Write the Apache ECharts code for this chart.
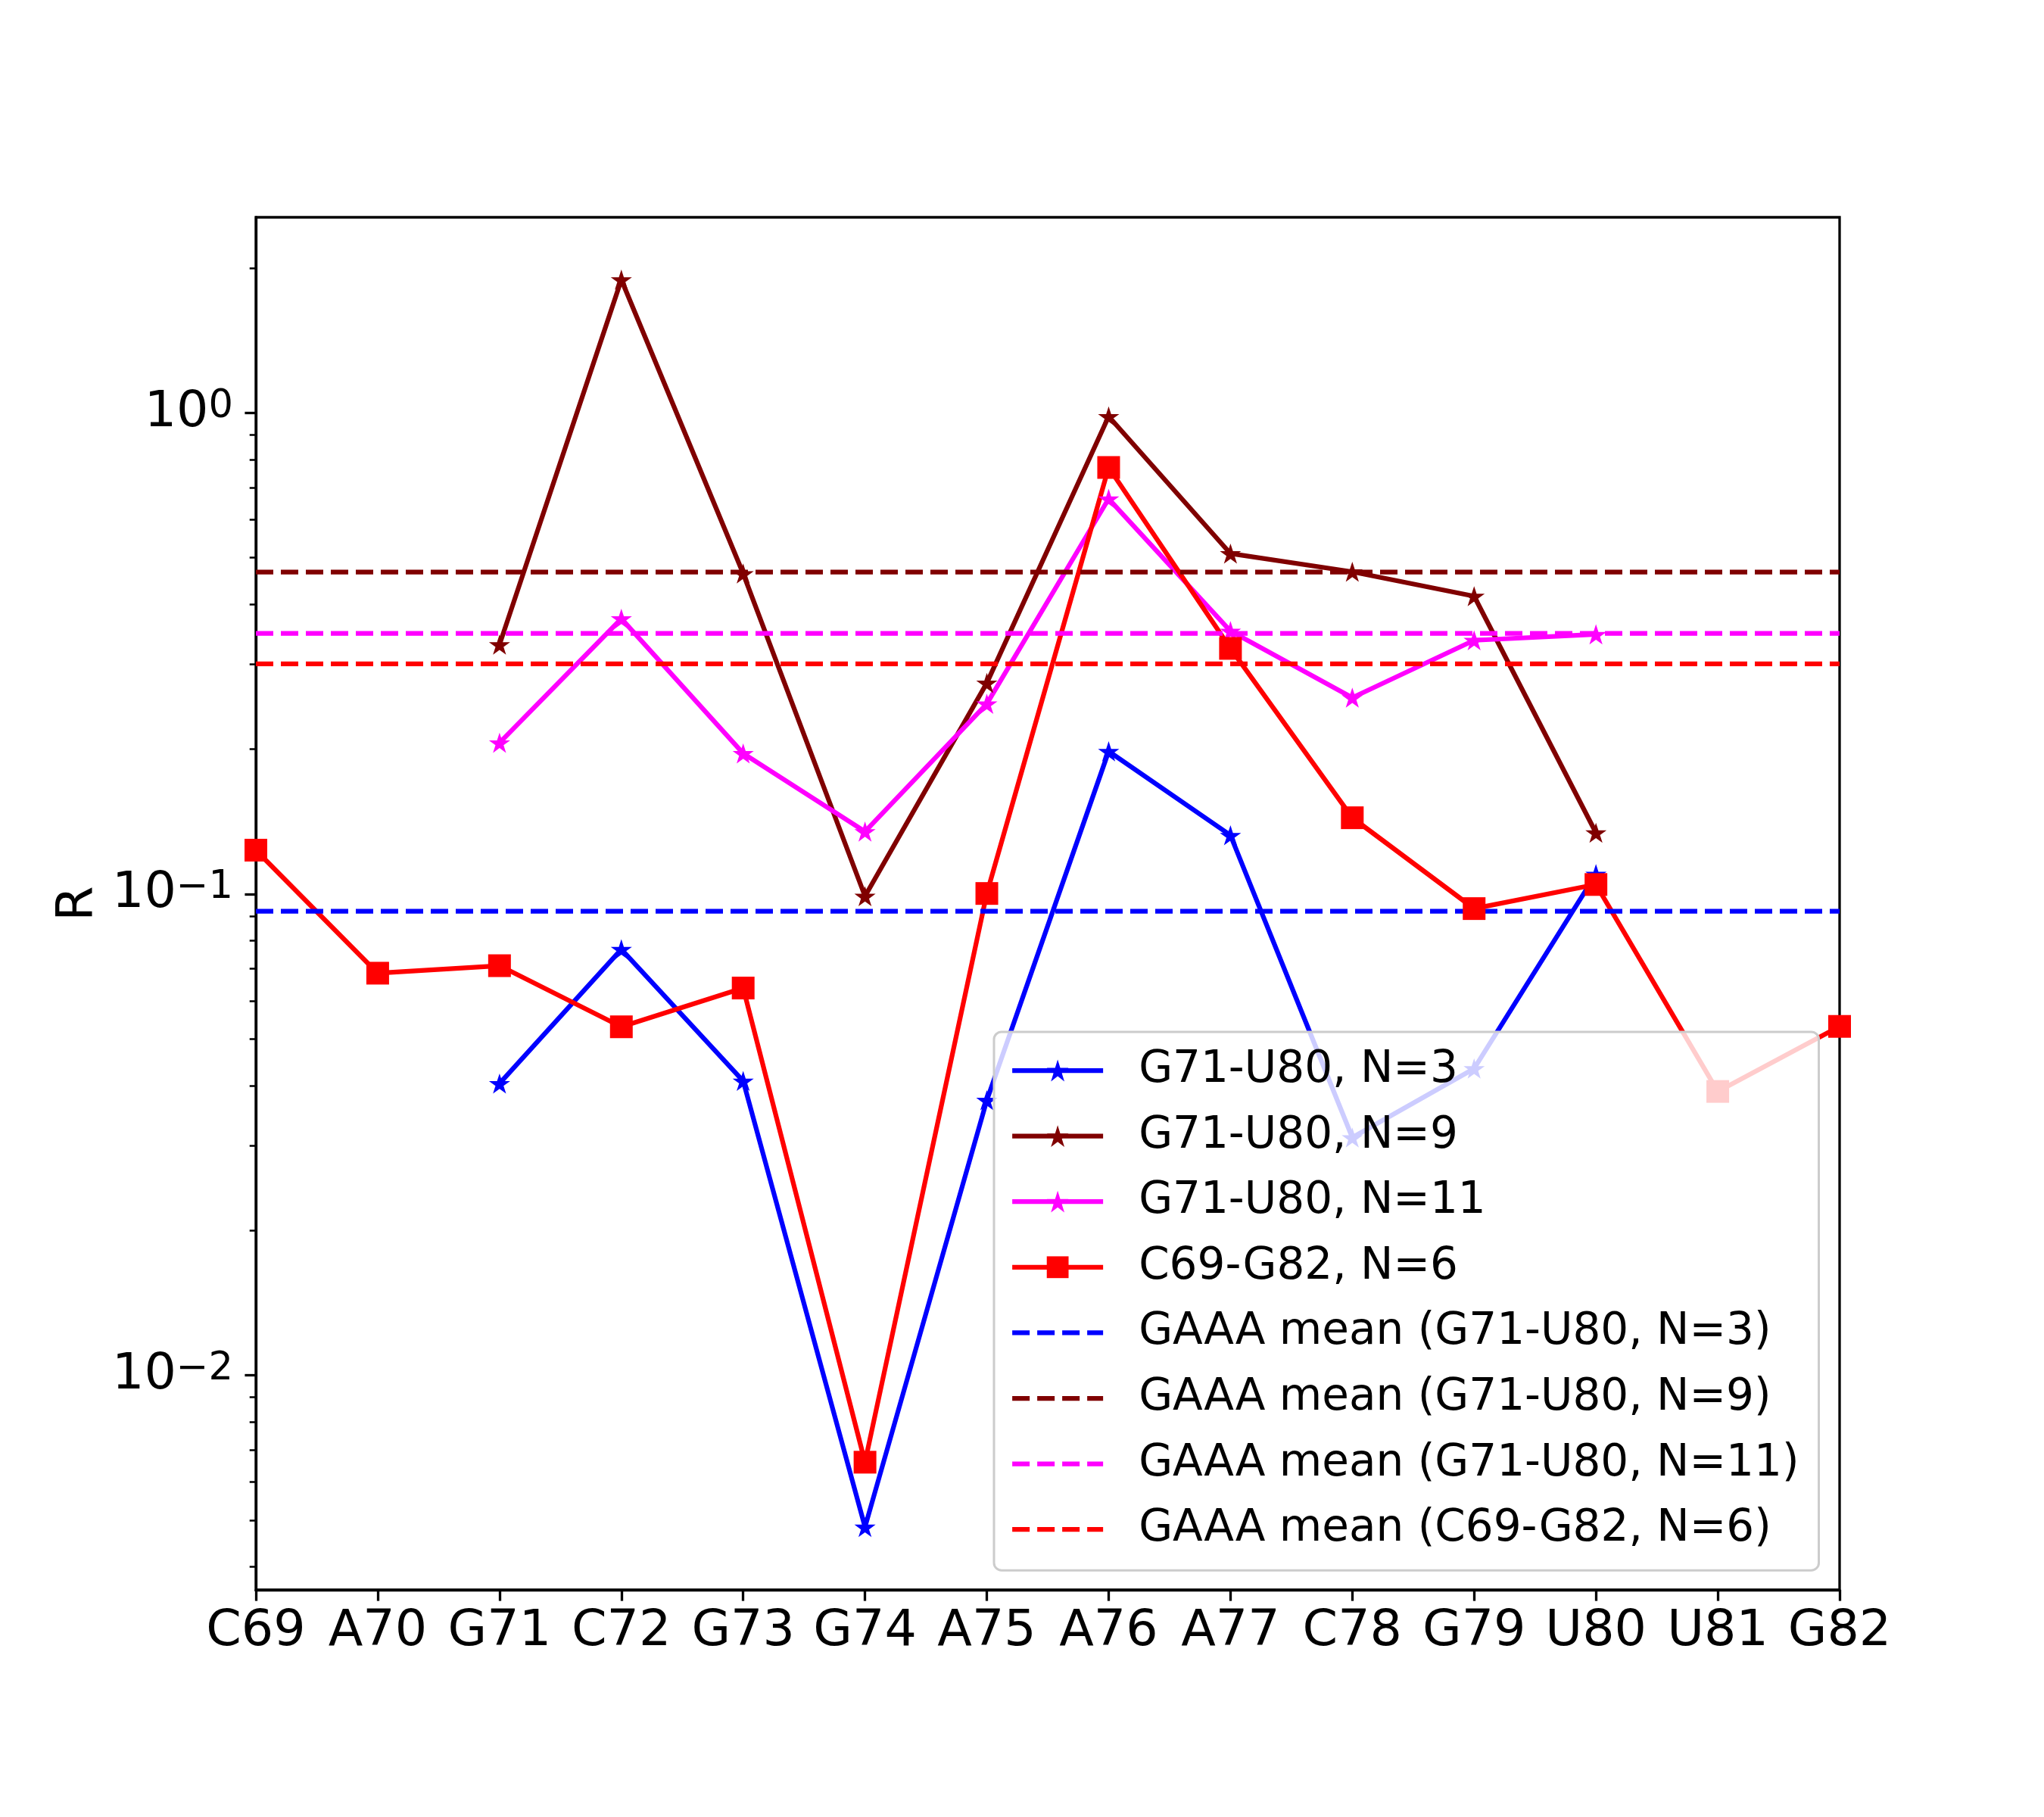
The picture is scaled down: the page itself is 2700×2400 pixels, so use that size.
<!DOCTYPE html>
<html>
<head>
<meta charset="utf-8">
<title>R per nucleotide</title>
<script src="https://cdn.jsdelivr.net/npm/echarts@6/dist/echarts.min.js"></script>
<style>
  html, body { margin: 0; padding: 0; background: #fff; }
  #chart { width: 2700px; height: 2400px; }
</style>
</head>
<body>
<div id="chart"></div>
<script>
// data
var categories = ['C69', 'A70', 'G71', 'C72', 'G73', 'G74', 'A75', 'A76', 'A77', 'C78', 'G79', 'U80', 'U81', 'G82'];
var g71N3 = [null, null, 0.0404, 0.0768, 0.0409, 0.00484, 0.0373, 0.198, 0.1325, 0.0312, 0.0434, 0.110, null, null];
var g71N9 = [null, null, 0.330, 1.891, 0.4636, 0.0990, 0.2746, 0.983, 0.510, 0.4675, 0.416, 0.1341, null, null];
var g71N11 = [null, null, 0.2063, 0.3735, 0.196, 0.1349, 0.2485, 0.663, 0.352, 0.256, 0.3368, 0.3465, null, null];
var c69N6 = [0.1234, 0.0685, 0.0710, 0.0530, 0.0638, 0.00660, 0.1003, 0.770, 0.324, 0.1441, 0.0933, 0.1047, 0.0389, 0.0531];
var meanN3 = 0.0921;
var meanN9 = 0.4667;
var meanN11 = 0.348;
var meanC69 = 0.301;
var yMajorTicks = [0.01, 0.1, 1];
var yMinorTicks = [0.004, 0.005, 0.006, 0.007, 0.008, 0.009,
  0.02, 0.03, 0.04, 0.05, 0.06, 0.07, 0.08, 0.09,
  0.2, 0.3, 0.4, 0.5, 0.6, 0.7, 0.8, 0.9, 2];

var FONT = 'DejaVu Sans';
var LW = 6.25;
var DASH = [23, 10];
// matplotlib '*' marker
var STAR = 'path://M100,0 L122.45,69.1 L195.1,69.1 L136.33,111.8 L158.8,180.9 L100,138.2 L41.2,180.9 L63.67,111.8 L4.9,69.1 L77.55,69.1 Z';

function lineSeries (name, data, color, symbol, size) {
  return {
    name: name,
    type: 'line',
    data: data,
    symbol: symbol,
    symbolSize: size,
    symbolKeepAspect: true,
    showAllSymbol: true,
    connectNulls: false,
    lineStyle: { color: color, width: LW },
    itemStyle: { color: color },
    emphasis: { disabled: true }
  };
}

function meanSeries (name, value, color) {
  return {
    name: name,
    type: 'line',
    data: [[categories[0], value], [categories[categories.length - 1], value]],
    symbol: 'none',
    lineStyle: { color: color, width: LW, type: DASH },
    itemStyle: { color: color },
    emphasis: { disabled: true }
  };
}

function expLabel (value) {
  var e = Math.round(Math.log(value) / Math.LN10);
  var s = e < 0 ? '\u2212' + (-e) : '' + e;
  return '{b|10}{s|' + s + '}';
}

var chart = echarts.init(document.getElementById('chart'), null, { renderer: 'canvas' });

var option = {
  animation: false,
  backgroundColor: '#fff',
  grid: {
    left: 338, right: 270, top: 287, bottom: 300,
    show: true, borderColor: '#000', borderWidth: 3.3, backgroundColor: 'transparent'
  },
  legend: {
    orient: 'vertical',
    left: 1313,
    top: 1363,
    padding: [18, 26, 21, 21],
    itemWidth: 120,
    itemHeight: 36,
    itemGap: 20.6,
    backgroundColor: 'rgba(255,255,255,0.8)',
    borderColor: '#cccccc',
    borderWidth: 3,
    borderRadius: 10,
    lineStyle: { width: LW },
    textStyle: { fontFamily: FONT, fontSize: 58, lineHeight: 66, color: '#000', padding: [0, 0, 0, 42] },
    data: [
      { name: 'G71-U80, N=3' },
      { name: 'G71-U80, N=9' },
      { name: 'G71-U80, N=11' },
      { name: 'C69-G82, N=6' },
      { name: 'GAAA mean (G71-U80, N=3)', itemStyle: { opacity: 0 } },
      { name: 'GAAA mean (G71-U80, N=9)', itemStyle: { opacity: 0 } },
      { name: 'GAAA mean (G71-U80, N=11)', itemStyle: { opacity: 0 } },
      { name: 'GAAA mean (C69-G82, N=6)', itemStyle: { opacity: 0 } }
    ]
  },
  xAxis: {
    type: 'category',
    data: categories,
    boundaryGap: false,
    axisLine: { lineStyle: { color: '#000', width: 3.3 } },
    axisTick: { alignWithLabel: true, length: 14.6, lineStyle: { color: '#000', width: 3.3 } },
    axisLabel: { fontFamily: FONT, fontSize: 66.7, color: '#000', margin: 22, interval: 0 },
    splitLine: { show: false }
  },
  yAxis: [
    {
      type: 'log',
      logBase: 10,
      min: 0.003583,
      max: 2.549,
      name: 'R',
      nameLocation: 'middle',
      nameGap: 190,
      nameTextStyle: { fontFamily: FONT, fontSize: 66.7, color: '#000' },
      axisLine: { show: true, lineStyle: { color: '#000', width: 3.3 } },
      axisTick: { show: true, length: 14.6, customValues: yMajorTicks, lineStyle: { color: '#000', width: 3.3 } },
      axisLabel: {
        customValues: yMajorTicks,
        margin: 30,
        color: '#000',
        formatter: expLabel,
        rich: {
          b: { fontFamily: FONT, fontSize: 66.7, lineHeight: 67, verticalAlign: 'bottom', color: '#000' },
          s: { fontFamily: FONT, fontSize: 51, lineHeight: 51, verticalAlign: 'top', padding: [0, 0, 26, 0], color: '#000' }
        }
      },
      splitLine: { show: false }
    },
    {
      // minor ticks only
      type: 'log',
      logBase: 10,
      min: 0.003583,
      max: 2.549,
      position: 'left',
      axisLine: { show: false },
      axisTick: { show: true, length: 8.3, customValues: yMinorTicks, lineStyle: { color: '#000', width: 2.5 } },
      axisLabel: { show: false },
      splitLine: { show: false }
    }
  ],
  series: [
    lineSeries('G71-U80, N=3', g71N3, '#0000ff', STAR, 28),
    lineSeries('G71-U80, N=9', g71N9, '#800000', STAR, 28),
    lineSeries('G71-U80, N=11', g71N11, '#ff00ff', STAR, 28),
    lineSeries('C69-G82, N=6', c69N6, '#ff0000', 'rect', 30),
    meanSeries('GAAA mean (G71-U80, N=3)', meanN3, '#0000ff'),
    meanSeries('GAAA mean (G71-U80, N=9)', meanN9, '#800000'),
    meanSeries('GAAA mean (G71-U80, N=11)', meanN11, '#ff00ff'),
    meanSeries('GAAA mean (C69-G82, N=6)', meanC69, '#ff0000')
  ]
};

chart.setOption(option);
</script>
</body>
</html>
